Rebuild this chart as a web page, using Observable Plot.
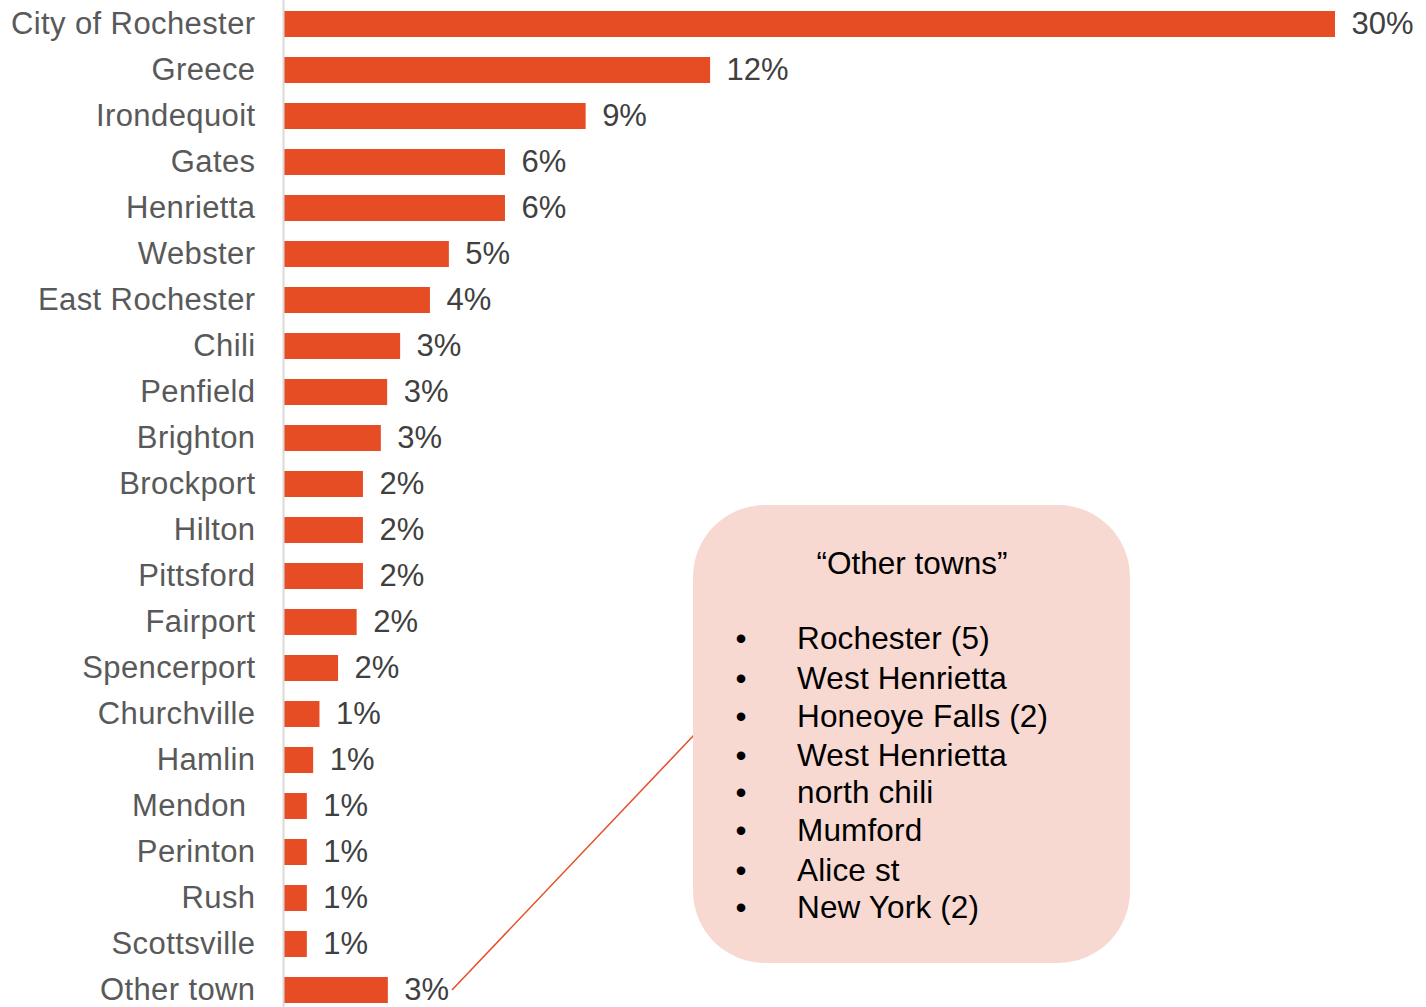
<!DOCTYPE html>
<html>
<head>
<meta charset="utf-8">
<script src="https://cdn.jsdelivr.net/npm/d3@7"></script>
<script src="https://cdn.jsdelivr.net/npm/@observablehq/plot@0.6"></script>
<style>
  html, body { margin: 0; padding: 0; background: #fff; }
  #wrap { position: relative; width: 1426px; height: 1007px; font-family: "Liberation Sans", Arial, sans-serif; }
  #overlay { position: absolute; left: 0; top: 0; pointer-events: none; }
  g[aria-label="y-axis tick label"] text { letter-spacing: 0.4px; }
</style>
</head>
<body>
<div id="wrap"></div>
<script>
// ---- data ----
const towns = ["City of Rochester","Greece","Irondequoit","Gates","Henrietta","Webster","East Rochester","Chili","Penfield","Brighton","Brockport","Hilton","Pittsford","Fairport","Spencerport","Churchville","Hamlin","Mendon ","Perinton","Rush","Scottsville","Other town"];
const shares = [30, 12.18, 8.63, 6.33, 6.33, 4.73, 4.19, 3.34, 2.97, 2.79, 2.28, 2.28, 2.28, 2.10, 1.57, 1.04, 0.86, 0.68, 0.68, 0.68, 0.68, 2.99];
const shareLabels = ["30%","12%","9%","6%","6%","5%","4%","3%","3%","3%","2%","2%","2%","2%","2%","1%","1%","1%","1%","1%","1%","3%"];
const otherTitle = "\u201COther towns\u201D";
const otherTowns = ["Rochester (5)","West Henrietta","Honeoye Falls (2)","West Henrietta","north chili","Mumford","Alice st","New York (2)"];

const data = towns.map((t, i) => ({town: t, share: shares[i], label: shareLabels[i]}));

const W = 1426, H = 1007;
const chart = Plot.plot({
  width: W,
  height: H,
  marginLeft: 283,
  marginRight: 91,
  marginTop: 10,
  marginBottom: 3,
  style: {fontFamily: "'Liberation Sans', Arial, sans-serif", fontSize: "31px", background: "white"},
  x: {domain: [0, 30], axis: null},
  y: {domain: towns, paddingInner: 0.43, paddingOuter: 0, label: null},
  marks: [
    Plot.barX(data, {x: "share", y: "town", fill: "#E64D24"}),
    Plot.ruleX([0], {stroke: "#d9d9d9", strokeWidth: 2, insetTop: -10, insetBottom: -3}),
    Plot.text(data, {x: "share", y: "town", text: "label", dx: 16, textAnchor: "start", fill: "#404040", fontSize: 31}),
    Plot.axisY({tickSize: 0, tickPadding: 28, color: "#595959", fontSize: 31, label: null})
  ]
});
const wrap = document.getElementById("wrap");
wrap.appendChild(chart);

// ---- annotation callout ----
const ov = d3.select(wrap).append("svg").attr("id", "overlay").attr("width", W).attr("height", H)
  .style("font-family", "'Liberation Sans', Arial, sans-serif");
ov.append("line").attr("x1", 452).attr("y1", 990).attr("x2", 695).attr("y2", 734)
  .attr("stroke", "#E64D24").attr("stroke-width", 1.5);
ov.append("rect").attr("x", 693).attr("y", 505).attr("width", 437).attr("height", 458)
  .attr("rx", 72).attr("ry", 72).attr("fill", "#F8D9D2");
ov.append("text").attr("x", 912).attr("y", 566).attr("text-anchor", "middle").attr("dominant-baseline", "middle")
  .attr("font-size", 31.5).attr("fill", "#000").text(otherTitle);
const ys = [641, 681, 719, 758, 795, 833, 873, 910];
otherTowns.forEach((t, i) => {
  ov.append("text").attr("x", 741).attr("y", ys[i]).attr("text-anchor", "middle").attr("dominant-baseline", "middle")
    .attr("font-size", 31.5).attr("fill", "#000").text("\u2022");
  ov.append("text").attr("x", 797).attr("y", ys[i]).attr("dominant-baseline", "middle")
    .attr("font-size", 31.5).attr("letter-spacing", "0.15px").attr("fill", "#000").text(t);
});
</script>
</body>
</html>
